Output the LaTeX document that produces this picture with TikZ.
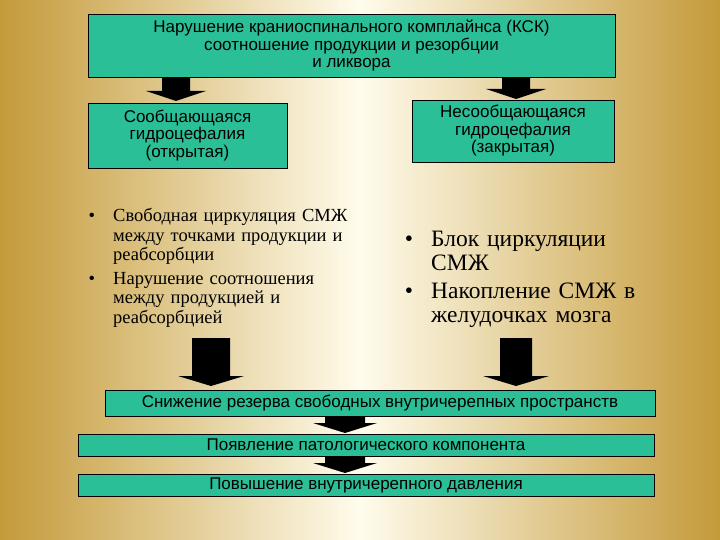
\documentclass[tikz,border=0pt]{standalone}
\usepackage{fontspec}
\setmainfont{Liberation Serif}
\newfontfamily\ls{Liberation Sans}
\begin{document}
\begin{tikzpicture}[x=1pt,y=-1pt,
  gbox/.style={draw=black,fill=boxg,inner sep=0pt,font=\ls\fontsize{17}{17.5}\selectfont,align=center},
  barrow/.style={fill=black,draw=none}]
\definecolor{boxg}{HTML}{2ABF96}
\definecolor{edgec}{HTML}{C49A3A}
\definecolor{midc}{HTML}{FFFCEC}
\useasboundingbox (0,0) rectangle (720,540);
\shade[left color=edgec,right color=edgec,middle color=midc] (0,0) rectangle (720,540);
% arrows
\newcommand{\blk}[5]{\fill[black] (#1-#3,#2) -- (#1+#3,#2) -- (#1+#3,#5-10) -- (#1+#4,#5-10) -- (#1,#5) -- (#1-#4,#5-10) -- (#1-#3,#5-10) -- cycle;}
\blk{176}{76}{14}{30}{101}
\blk{516}{76}{14}{30}{99}
\blk{211}{338}{19}{33}{386}
\blk{516}{338}{16}{33}{386}
\blk{345}{415}{20}{32}{433}
\blk{345}{455}{20}{32}{473}
\node[gbox,minimum width=527,minimum height=63] (top) at (351.5,45.5) {Нарушение краниоспинального комплайнса (КСК)\\соотношение продукции и резорбции\\и ликвора};
\node[gbox,minimum width=199,minimum height=65] (l) at (187.5,135.5) {Сообщающаяся\\гидроцефалия\\(открытая)};
\node[gbox,minimum width=202,minimum height=62] (r) at (513,131) {Несообщающаяся\\гидроцефалия\\(закрытая)};
\node[anchor=north west,text width=282,inner sep=0pt,font=\fontsize{18.5}{19.5}\selectfont] (lt) at (88,194) {
\begin{itemize}\setlength{\itemsep}{0pt}\setlength{\parsep}{0pt}\setlength{\topsep}{0pt}\setlength{\leftmargini}{30pt}\setlength{\labelsep}{18pt}
\item Свободная циркуляция СМЖ между точками продукции и реабсорбции
\item Нарушение соотношения между продукцией и реабсорбцией
\end{itemize}};
\node[anchor=north west,text width=245,inner sep=0pt,font=\fontsize{23.5}{24}\selectfont] (rt) at (406,214) {
\begin{itemize}\setlength{\itemsep}{0pt}\setlength{\parsep}{0pt}\setlength{\topsep}{0pt}\setlength{\leftmargini}{34pt}\setlength{\labelsep}{18pt}
\item Блок циркуляции СМЖ
\item Накопление СМЖ в желудочках мозга
\end{itemize}};
\node[gbox,minimum width=550,minimum height=26] (b1) at (380,403) {Снижение резерва свободных внутричерепных пространств};
\node[gbox,minimum width=576,minimum height=22] (b2) at (366,445) {Появление патологического компонента};
\node[gbox,minimum width=576,minimum height=22] (b3) at (366,485) {Повышение внутричерепного давления};
\end{tikzpicture}
\end{document}
